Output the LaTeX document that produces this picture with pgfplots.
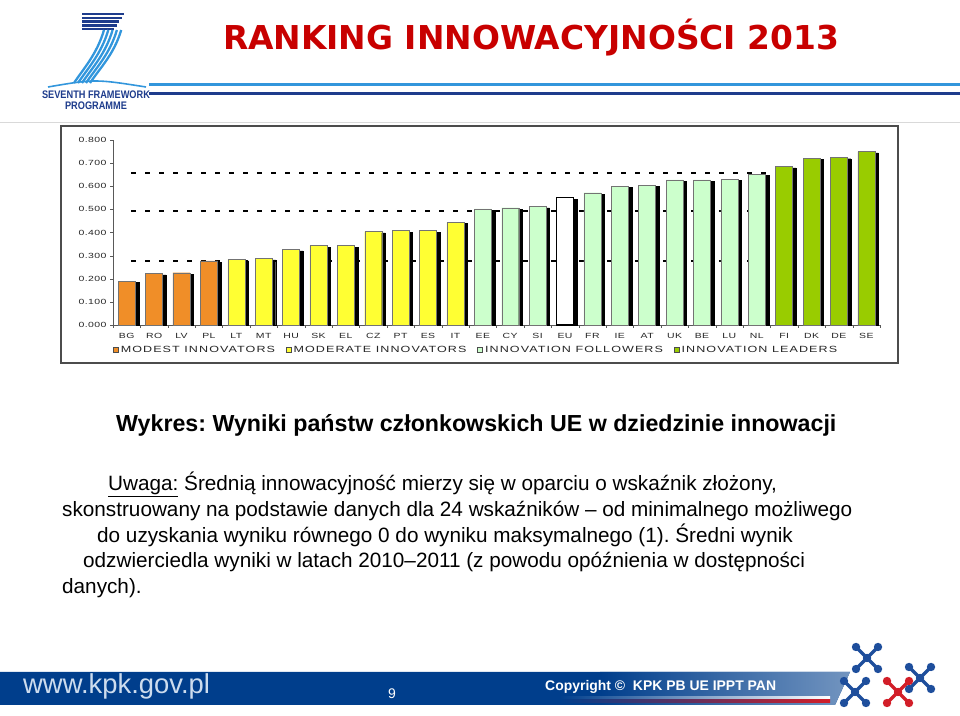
\documentclass[border=0pt]{standalone}
\usepackage{pgfplots}
\pgfplotsset{compat=1.18}
\usepackage{pgfplotstable}
\usepackage{fontspec}
\setmainfont{Liberation Sans}
\newfontfamily\titlefont{DejaVu Sans}
\newfontfamily\chartfont[FakeStretch=1.4,LetterSpace=6]{Liberation Sans}
\newfontfamily\legendfont[FakeStretch=1.4,LetterSpace=12]{Liberation Sans}
\newfontfamily\narrowfont[FakeStretch=0.84]{Liberation Sans}
\frenchspacing

\definecolor{titlered}{RGB}{200,0,0}
\definecolor{fpdark}{RGB}{30,60,140}
\definecolor{fplight}{RGB}{50,150,220}
\definecolor{modest}{RGB}{240,142,40}
\definecolor{moderate}{RGB}{255,255,51}
\definecolor{follower}{RGB}{204,255,204}
\definecolor{leader}{RGB}{153,204,0}
\definecolor{footblue}{RGB}{0,62,140}
\definecolor{molblue}{RGB}{30,78,156}
\definecolor{molred}{RGB}{210,30,40}

% wartosci
\pgfplotstableread{
x y
0 0.190
1 0.223
2 0.226
3 0.277
}\modesttab
\pgfplotstableread{
x y
4 0.284
5 0.288
6 0.327
7 0.343
8 0.343
9 0.404
10 0.408
11 0.408
12 0.444
}\moderatetab
\pgfplotstableread{
x y
13 0.502
14 0.507
15 0.512
17 0.572
18 0.601
19 0.604
20 0.627
21 0.627
22 0.630
23 0.652
}\followertab
\pgfplotstableread{
x y
16 0.551
}\eutab
\pgfplotstableread{
x y
24 0.685
25 0.721
26 0.725
27 0.750
}\leadertab

\begin{document}
\begin{tikzpicture}[x=1bp,y=1bp]
\path[use as bounding box] (0,0) rectangle (960,716);

% naglowek
\draw[black!15] (0,594) -- (960,594);
\foreach \i in {0,...,4}
  \draw[fpdark, line width=2.3] (82,{702-3.8*\i}) -- ({124-2.5*\i},{702-3.8*\i});
\foreach \i in {0,...,4}
  \draw[fplight, line width=2.3] ({104+4.3*\i},686) .. controls ({97+4.3*\i},662) and ({84+4*\i},648) .. ({74+4*\i},633);
\draw[fplight, line width=1.6] (48,629) .. controls (95,637) .. (146,629);
\node[fpdark, font=\narrowfont\bfseries\fontsize{11}{12}\selectfont, inner sep=0] at (96,621) {SEVENTH FRAMEWORK};
\node[fpdark, font=\narrowfont\bfseries\fontsize{11}{12}\selectfont, inner sep=0] at (96,610) {PROGRAMME};
\draw[fplight, line width=3] (149,631) -- (960,631);
\draw[fpdark, line width=3] (149,622) -- (960,622);
\node[titlered, font=\titlefont\bfseries\fontsize{33}{36}\selectfont, inner sep=0] at (531,678) {RANKING INNOWACYJNOŚCI 2013};

% ramka wykresu
\draw[black!70, line width=1.5, fill=white] (61,353) rectangle (898,590);

\begin{axis}[
  at={(113bp,391bp)}, anchor=south west,
  scale only axis, width=767bp, height=185bp,
  xmin=-0.5, xmax=27.5, ymin=0, ymax=0.8,
  axis lines*=left,
  axis line style={black!65},
  tick align=outside,
  ybar, bar width=0.62,
  clip=false,
  ytick={0,0.1,0.2,0.3,0.4,0.5,0.6,0.7,0.8},
  yticklabel style={/pgf/number format/.cd, fixed, fixed zerofill, precision=3, assume math mode=true},
  ticklabel style={font=\chartfont\fontsize{7.5}{8}\selectfont, text=black!85},
  xtick={0,...,27},
  xticklabels={BG,RO,LV,PL,LT,MT,HU,SK,EL,CZ,PT,ES,IT,EE,CY,SI,EU,FR,IE,AT,UK,BE,LU,NL,FI,DK,DE,SE},
  x tick label style={yshift=-1.5bp},
  minor xtick={-0.5,0.5,...,27.5},
  major x tick style={draw=none},
  minor tick length=3bp, major tick length=3bp,
  tick style={black!65},
  legend columns=4,
  legend style={at={(0,-0.135)}, anchor=west, draw=none, fill=none, inner sep=0pt,
    font=\legendfont\fontsize{9}{10}\selectfont, text=black!85,
    /tikz/every even column/.append style={column sep=9bp}},
  legend image code/.code={\draw[#1, draw=black!70, line width=0.6] (0bp,-2.5bp) rectangle (5bp,2.5bp);},
]
% linie progowe
\addplot[forget plot, sharp plot, black, line width=2, dash pattern=on 5bp off 9bp] coordinates {(0.16,0.659) (27.0,0.659)};
\addplot[forget plot, sharp plot, black, line width=2, dash pattern=on 5bp off 9bp] coordinates {(0.16,0.494) (27.0,0.494)};
\addplot[forget plot, sharp plot, black, line width=2, dash pattern=on 5bp off 9bp] coordinates {(0.16,0.277) (27.0,0.277)};
% cienie
\addplot[forget plot, fill=black, draw=black, bar shift=0.13] table[x=x, y expr=\thisrow{y}-0.006] {\modesttab};
\addplot[forget plot, fill=black, draw=black, bar shift=0.13] table[x=x, y expr=\thisrow{y}-0.006] {\moderatetab};
\addplot[forget plot, fill=black, draw=black, bar shift=0.13] table[x=x, y expr=\thisrow{y}-0.006] {\followertab};
\addplot[forget plot, fill=black, draw=black, bar shift=0.13] table[x=x, y expr=\thisrow{y}-0.006] {\eutab};
\addplot[forget plot, fill=black, draw=black, bar shift=0.13] table[x=x, y expr=\thisrow{y}-0.006] {\leadertab};
% slupki
\addplot[fill=modest, draw=black!55, bar shift=0] table[x=x,y=y] {\modesttab};
\addlegendentry{MODEST INNOVATORS}
\addplot[fill=moderate, draw=black!55, bar shift=0] table[x=x,y=y] {\moderatetab};
\addlegendentry{MODERATE INNOVATORS}
\addplot[fill=follower, draw=black!55, bar shift=0] table[x=x,y=y] {\followertab};
\addlegendentry{INNOVATION FOLLOWERS}
\addplot[forget plot, fill=white, draw=black, line width=1.5, bar shift=0] table[x=x,y=y] {\eutab};
\addplot[fill=leader, draw=black!55, bar shift=0] table[x=x,y=y] {\leadertab};
\addlegendentry{INNOVATION LEADERS}
\end{axis}

% tekst
\node[anchor=base west, inner sep=0, font=\bfseries\fontsize{23.3}{26}\selectfont] at (116,284) {Wykres: Wyniki państw członkowskich UE w dziedzinie innowacji};
\begin{scope}[every node/.style={anchor=base west, inner sep=0, font=\fontsize{20.8}{25}\selectfont}]
\node at (108,225) {\underline{Uwaga:} Średnią innowacyjność mierzy się w oparciu o wskaźnik złożony,};
\node at (62,199) {skonstruowany na podstawie danych dla 24 wskaźników – od minimalnego możliwego};
\node at (97,173.5) {do uzyskania wyniku równego 0 do wyniku maksymalnego (1). Średni wynik};
\node at (83,148) {odzwierciedla wyniki w latach 2010–2011 (z powodu opóźnienia w dostępności};
\node at (62,122.5) {danych).};
\end{scope}

% stopka
\fill[footblue] (0,11) -- (835,11) -- (850,44) -- (0,44) -- cycle;
\shade[left color=footblue, right color=footblue!55!white] (600,11) -- (835,11) -- (850,44) -- (600,44) -- cycle;
\shade[left color=footblue, right color=white] (560,17) rectangle (830,19);
\shade[left color=footblue, right color=molred] (560,13) rectangle (830,16);
\node[anchor=base west, inner sep=0, text={rgb,255:red,205;green,220;blue,238}, font=\fontsize{27.5}{30}\selectfont] at (23,22) {www.kpk.gov.pl};
\node[anchor=base west, inner sep=0, text=white, font=\fontsize{14}{16}\selectfont] at (388,17) {9};
\node[anchor=base west, inner sep=0, text=white, font=\bfseries\fontsize{14}{16}\selectfont] at (545,25) {Copyright ©\ \ KPK PB UE IPPT PAN};
\foreach \cx/\cy/\cc in {867/58/molblue, 855/24/molblue, 920/38/molblue, 898/24/molred} {
  \draw[\cc, line width=3.5] ({\cx-11},{\cy-11}) -- ({\cx+11},{\cy+11});
  \draw[\cc, line width=3.5] ({\cx-11},{\cy+11}) -- ({\cx+11},{\cy-11});
  \foreach \dx/\dy in {-11/-11,-11/11,11/-11,11/11,0/0}
    \fill[\cc] ({\cx+\dx},{\cy+\dy}) circle (4.2);
}
\end{tikzpicture}
\end{document}
